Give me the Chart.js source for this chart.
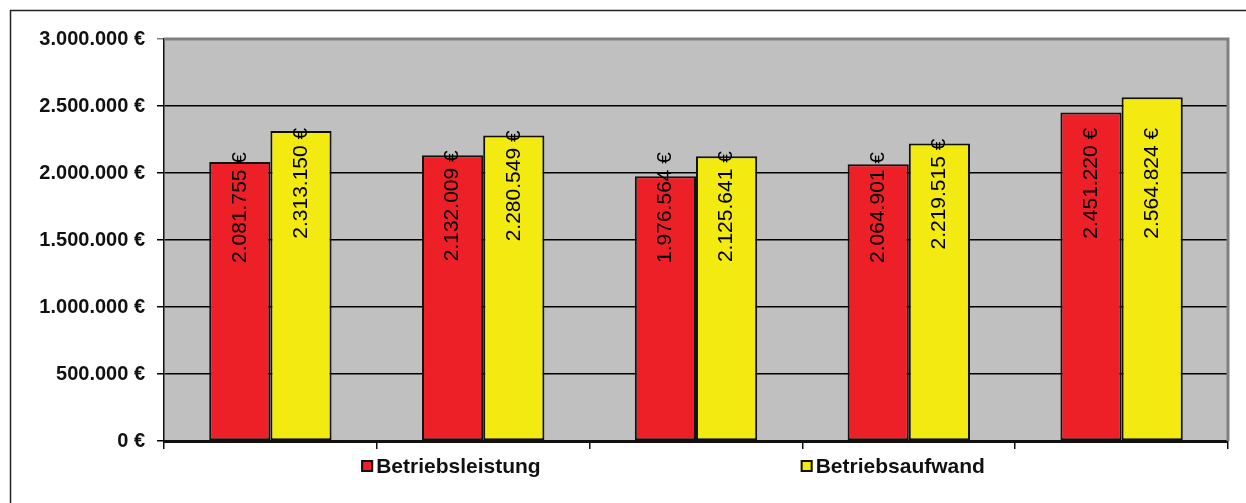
<!DOCTYPE html>
<html lang="de">
<head>
<meta charset="UTF-8" />
<title>Betriebsleistung / Betriebsaufwand</title>
<script src="https://cdn.jsdelivr.net/npm/chart.js@4.4.0/dist/chart.umd.min.js"></script>
<style>
  html, body { margin: 0; padding: 0; background: #fff; }
  #board { width: 1246px; height: 503px; }
</style>
</head>
<body>
<div id="board"><canvas id="chart1" width="1246" height="503"></canvas></div>
<script>
// Daten
const categories = ['1', '2', '3', '4', '5'];
const betriebsleistung = [2081755, 2132009, 1976564, 2064901, 2451220];
const betriebsaufwand = [2313150, 2280549, 2125641, 2219515, 2564824];
const yTicks = [0, 500000, 1000000, 1500000, 2000000, 2500000, 3000000];

const fmt = v => v.toLocaleString('de-DE') + ' €';

const deco = {
  id: 'deco',
  beforeDraw(chart) {
    const { ctx, chartArea: a, width, height } = chart;
    ctx.save();
    ctx.fillStyle = '#fff';
    ctx.fillRect(0, 0, width, height);
    // Rahmen (rechts/unten abgeschnitten)
    ctx.strokeStyle = '#222';
    ctx.lineWidth = 1.5;
    ctx.beginPath();
    ctx.moveTo(10.5, height);
    ctx.lineTo(10.5, 10.5);
    ctx.lineTo(width, 10.5);
    ctx.stroke();
    ctx.fillStyle = '#c0c0c0';
    ctx.fillRect(a.left, a.top, a.right - a.left, a.bottom - a.top);
    ctx.restore();
  },
  beforeDatasetsDraw(chart) {
    const { ctx, chartArea: a } = chart;
    ctx.save();
    ctx.strokeStyle = '#808080';
    ctx.lineWidth = 3;
    ctx.beginPath();
    ctx.moveTo(a.left, a.top);
    ctx.lineTo(a.right, a.top);
    ctx.lineTo(a.right, a.bottom);
    ctx.stroke();
    ctx.restore();
  },
  afterDatasetsDraw(chart) {
    const { ctx } = chart;
    const y = chart.scales.y;
    ctx.save();
    ctx.font = '21px "Liberation Sans", Arial, sans-serif';
    ctx.fillStyle = '#000';
    ctx.textBaseline = 'middle';
    ctx.textAlign = 'right';
    chart.data.datasets.forEach((ds, i) => {
      chart.getDatasetMeta(i).data.forEach((bar, j) => {
        const v = ds.data[j];
        const end = Math.min(y.getPixelForValue(Math.min(v, 2300000)) - 5, 152);
        ctx.save();
        ctx.translate(bar.x, end);
        ctx.rotate(-Math.PI / 2);
        ctx.fillText(fmt(v), 0, 0);
        ctx.restore();
      });
    });
    ctx.restore();
  },
  afterDraw(chart) {
    const { ctx, chartArea: a } = chart;
    ctx.save();
    ctx.font = 'bold 21px "Liberation Sans", Arial, sans-serif';
    ctx.textBaseline = 'middle';
    ctx.textAlign = 'left';
    const gap = 260, box = 12, ly = 466;
    const items = chart.data.datasets.map(ds => ({ text: ds.label, color: ds.backgroundColor, w: box + 3 + ctx.measureText(ds.label).width }));
    const total = items.reduce((s, it) => s + it.w, 0) + gap * (items.length - 1);
    let x = (a.left + a.right) / 2 - 23 - total / 2;
    items.forEach(it => {
      ctx.fillStyle = it.color;
      ctx.fillRect(x, ly - box / 2, box, box);
      ctx.strokeStyle = '#111';
      ctx.lineWidth = 2;
      ctx.strokeRect(x + 1, ly - box / 2 + 1, box - 2, box - 2);
      ctx.fillStyle = '#111';
      ctx.fillText(it.text, x + box + 3, ly + 1);
      x += it.w + gap;
    });
    ctx.restore();
  }
};

new Chart(document.getElementById('chart1'), {
  type: 'bar',
  data: {
    labels: categories,
    datasets: [
      { label: 'Betriebsleistung', data: betriebsleistung, backgroundColor: '#ee2027', borderColor: '#111', borderWidth: 2, borderSkipped: false },
      { label: 'Betriebsaufwand', data: betriebsaufwand, backgroundColor: '#f2ea10', borderColor: '#111', borderWidth: 2, borderSkipped: false }
    ]
  },
  options: {
    responsive: false,
    animation: false,
    layout: { padding: { top: 39, right: 18, left: 0, bottom: 0 } },
    datasets: { bar: { categoryPercentage: 0.575, barPercentage: 1.0 } },
    plugins: { legend: { display: false }, tooltip: { enabled: false } },
    scales: {
      x: {
        grid: { offset: true, drawOnChartArea: false, tickLength: 8, color: '#111', lineWidth: 1.5 },
        border: { color: '#111', width: 3 },
        ticks: { callback: () => '' },
        afterFit(s) { s.height = 62; }
      },
      y: {
        min: 0,
        max: 3000000,
        afterBuildTicks(s) { s.ticks = yTicks.map(v => ({ value: v })); },
        grid: {
          color: c => (c.tick && c.tick.value === 3000000 ? '#808080' : '#000'),
          lineWidth: 1.5,
          tickLength: 7
        },
        border: { color: '#111', width: 1.5 },
        ticks: {
          padding: 12,
          color: '#111',
          font: { family: '"Liberation Sans", Arial, sans-serif', size: 20, weight: 'bold' },
          callback: v => fmt(v)
        },
        afterFit(s) { s.width = 164; }
      }
    }
  },
  plugins: [deco]
});
</script>
</body>
</html>
